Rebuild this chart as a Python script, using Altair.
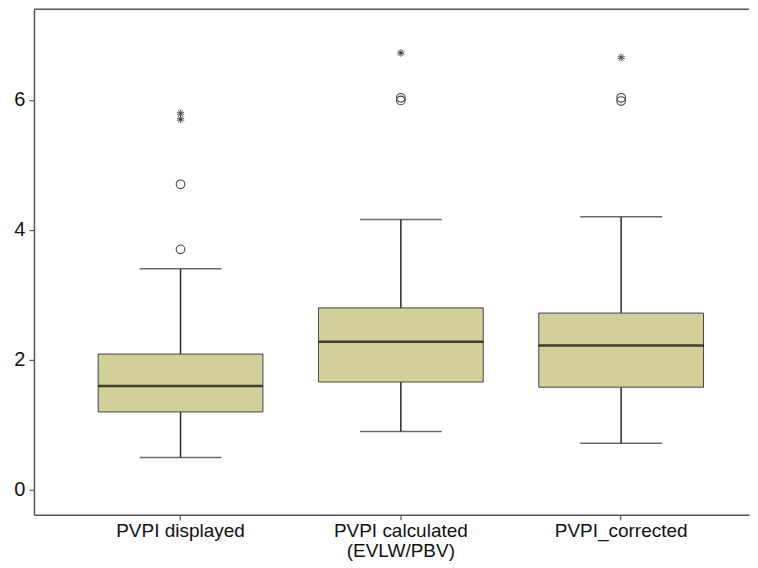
import altair as alt
import pandas as pd

categories = ["PVPI displayed", "PVPI calculated (EVLW/PBV)", "PVPI_corrected"]
label_lines = [["PVPI displayed"], ["PVPI calculated", "(EVLW/PBV)"], ["PVPI_corrected"]]
whisker_low = [0.50, 0.90, 0.72]
q1 = [1.20, 1.66, 1.58]
median = [1.60, 2.28, 2.22]
q3 = [2.09, 2.80, 2.72]
whisker_high = [3.40, 4.16, 4.20]

outlier_cat = [categories[0]] * 4 + [categories[1]] * 3 + [categories[2]] * 3
outlier_val = [3.70, 4.70, 5.70, 5.79, 5.99, 6.03, 6.72, 5.98, 6.03, 6.65]
outlier_kind = ["mild", "mild", "extreme", "extreme",
                "mild", "mild", "extreme",
                "mild", "mild", "extreme"]

y_ticks = [0, 2, 4, 6]
y_domain = [-0.38, 7.39]

box_df = pd.DataFrame({
    "cat": categories, "low": whisker_low, "q1": q1, "med": median,
    "q3": q3, "high": whisker_high,
})
out_df = pd.DataFrame({"cat": outlier_cat, "val": outlier_val, "kind": outlier_kind})

W, H = 716, 506
FONT = "Liberation Sans"
BOX_FILL = "#D3CF99"
LINE = "#2b2b2b"

label_expr = " : ".join(
    f"datum.value == '{c}' ? {lines!r}" for c, lines in zip(categories, label_lines)
) + " : datum.value"

xscale = alt.Scale(domain=categories, paddingInner=0, paddingOuter=0.1228, align=0.673)
yscale = alt.Scale(domain=y_domain, nice=False, zero=False)

x_enc = alt.X("cat:N", scale=xscale, sort=categories, title=None,
              axis=alt.Axis(labelAngle=0, labelExpr=label_expr, labelFont=FONT,
                            labelFontSize=19, labelColor="#111", labelLineHeight=20,
                            labelPadding=2, tickSize=5, tickColor="#555",
                            domainColor="#555", domainWidth=1.5, tickWidth=1.2,
                            labelBaseline="top"))
y_axis = alt.Axis(values=y_ticks, format="d", grid=False, labelFont=FONT, labelFontSize=20,
                  labelColor="#111", tickSize=5, tickColor="#555", domainColor="#555",
                  domainWidth=1.5, tickWidth=1.2, labelPadding=4, minExtent=26,
                  maxExtent=26, title=None)

base = alt.Chart(box_df)

whisker = base.mark_rule(color=LINE, strokeWidth=1.5).encode(
    x=x_enc,
    y=alt.Y("low:Q", scale=yscale, axis=y_axis),
    y2="high:Q",
)
caps_low = base.mark_tick(color=LINE, size=82, thickness=1.5).encode(
    x=alt.X("cat:N", sort=categories), y=alt.Y("low:Q"))
caps_high = base.mark_tick(color=LINE, size=82, thickness=1.5).encode(
    x=alt.X("cat:N", sort=categories), y=alt.Y("high:Q"))
box = base.mark_bar(size=165, fill=BOX_FILL, stroke="#444", strokeWidth=1).encode(
    x=alt.X("cat:N", sort=categories), y=alt.Y("q1:Q"), y2="q3:Q")
med = base.mark_tick(color="#000", size=165, thickness=2.5).encode(
    x=alt.X("cat:N", sort=categories), y=alt.Y("med:Q"))

star_path = "M0,-1L0,1M-0.95,-0.31L0.95,0.31M-0.59,0.81L0.59,-0.81M0.59,0.81L-0.59,-0.81M-0.95,0.31L0.95,-0.31"
outliers = alt.Chart(out_df).mark_point(filled=False, opacity=1).encode(
    x=alt.X("cat:N", sort=categories),
    y=alt.Y("val:Q"),
    shape=alt.Shape("kind:N", scale=alt.Scale(domain=["mild", "extreme"],
                                              range=["circle", star_path]), legend=None),
    size=alt.Size("kind:N", scale=alt.Scale(domain=["mild", "extreme"], range=[75, 60]),
                  legend=None),
    color=alt.Color("kind:N", scale=alt.Scale(domain=["mild", "extreme"],
                                              range=["#444", "#333"]), legend=None),
    strokeWidth=alt.StrokeWidth("kind:N", scale=alt.Scale(domain=["mild", "extreme"],
                                                          range=[1.1, 0.8]), legend=None),
)

top_line = alt.Chart(pd.DataFrame({"top": [y_domain[1]]})).mark_rule(
    color="#555", strokeWidth=1.5).encode(y=alt.Y("top:Q"))

chart = alt.layer(whisker, caps_low, caps_high, box, med, outliers, top_line).properties(
    width=W, height=H, background="white",
    padding={"left": 0, "top": 0, "right": 0, "bottom": 0},
).configure_view(strokeWidth=0, strokeOpacity=0)

chart.save("out.html", embed_options={"renderer": "svg", "actions": False})
